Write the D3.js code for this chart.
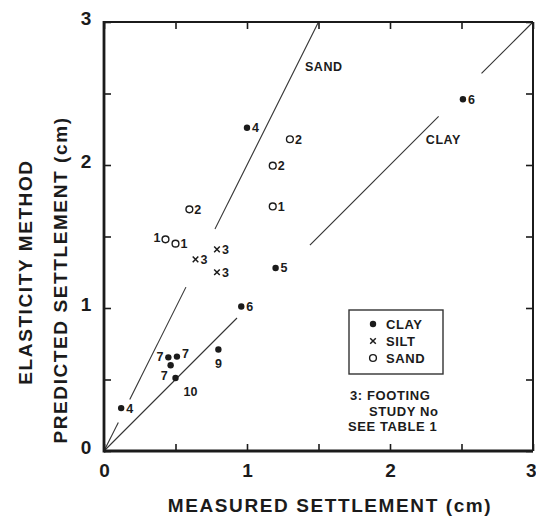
<!DOCTYPE html>
<html>
<head>
<meta charset="utf-8">
<script src="https://cdn.jsdelivr.net/npm/d3@7"></script>
<style>
  html, body { margin: 0; padding: 0; background: #fff; }
  svg { display: block; }
  text { font-family: "Liberation Sans", Arial, Helvetica, sans-serif; fill: #1b1b1b; }
</style>
</head>
<body>
<svg id="chart" width="536" height="516"></svg>
<script>
// Footing settlements: measured vs. predicted by the elasticity method (cm)
const soilTypes = ["CLAY", "SILT", "SAND"];

const clayMeasured  = [0.12, 1.00, 2.51, 1.20, 0.96, 0.45, 0.51, 0.466, 0.50, 0.80];
const clayPredicted = [0.30, 2.26, 2.46, 1.28, 1.01, 0.655, 0.66, 0.60, 0.51, 0.71];
const clayStudy     = ["4", "4", "6", "5", "6", "7", "7", "7", "10", "9"];

const siltMeasured  = [0.79, 0.64, 0.79];
const siltPredicted = [1.41, 1.34, 1.25];
const siltStudy     = ["3", "3", "3"];

const sandMeasured  = [0.597, 1.18, 0.43, 0.50, 1.30, 1.18];
const sandPredicted = [1.69, 1.71, 1.48, 1.45, 2.18, 1.995];
const sandStudy     = ["2", "1", "1", "1", "2", "2"];

// Trend lines through the origin: predicted = slope * measured, drawn in pieces
const trendNames    = ["SAND", "CLAY"];
const trendSlopes   = [2, 1];
const sandPieces    = [[0, 0.10], [0.18, 0.573], [0.776, 1.5]];
const clayPieces    = [[0, 0.93], [1.44, 2.34], [2.64, 3.0]];

const tickValues = [0, 0.5, 1, 1.5, 2, 2.5, 3];
const tickLabels = ["0", "", "1", "", "2", "", "3"];

const xTitle = "MEASURED SETTLEMENT (cm)";
const yTitleLines = ["ELASTICITY METHOD", "PREDICTED SETTLEMENT (cm)"];
const noteLines = ["3: FOOTING", "STUDY No", "SEE TABLE 1"];

// ---- build records ----
const points = [];
clayMeasured.forEach((m, i) => points.push({ soil: "CLAY", m, p: clayPredicted[i], label: clayStudy[i], idx: i }));
siltMeasured.forEach((m, i) => points.push({ soil: "SILT", m, p: siltPredicted[i], label: siltStudy[i], idx: i }));
sandMeasured.forEach((m, i) => points.push({ soil: "SAND", m, p: sandPredicted[i], label: sandStudy[i], idx: i }));

// label placement tweaks for crowded points: [dx, dy, anchor]
const labelOffsets = {
  "CLAY-5": [-5, -1, "end"],
  "CLAY-6": [5, -3, "start"],
  "CLAY-7": [-3, 10, "end"],
  "CLAY-8": [8, 13, "start"],
  "CLAY-9": [0, 14, "middle"],
  "SAND-2": [-5, -2, "end"]
};

const svg = d3.select("#chart");
const plotL = 104, plotR = 533, plotT = 22, plotB = 451;
const x = d3.scaleLinear().domain([0, 3]).range([plotL, plotR]);
const y = d3.scaleLinear().domain([0, 3]).range([plotB, plotT]);
const ink = "#1b1b1b";

// ---- trend lines ----
const line = d3.line().x(d => x(d[0])).y(d => y(d[1]));
[sandPieces, clayPieces].forEach((pieces, k) => {
  pieces.forEach(([a, b]) => {
    svg.append("path")
      .attr("d", line([[a, a * trendSlopes[k]], [b, b * trendSlopes[k]]]))
      .attr("fill", "none").attr("stroke", "#333").attr("stroke-width", 1.1);
  });
});
svg.append("text").attr("x", x(1.405)).attr("y", y(2.69) + 5)
  .attr("font-size", 12.5).attr("font-weight", "bold").attr("letter-spacing", 0.6).text(trendNames[0]);
svg.append("text").attr("x", x(2.25)).attr("y", y(2.18) + 5)
  .attr("font-size", 12.5).attr("font-weight", "bold").attr("letter-spacing", 0.6).text(trendNames[1]);

// ---- axes: inward ticks on all four sides ----
function fmt(d) { return tickLabels[tickValues.indexOf(d)]; }
const gx = svg.append("g").attr("transform", `translate(0,${plotB})`)
  .call(d3.axisBottom(x).tickValues(tickValues).tickFormat(fmt).tickSize(-7).tickSizeOuter(0).tickPadding(13));
const gy = svg.append("g").attr("transform", `translate(${plotL},0)`)
  .call(d3.axisLeft(y).tickValues(tickValues).tickFormat(fmt).tickSize(-7).tickSizeOuter(0).tickPadding(12));
const gt = svg.append("g").attr("transform", `translate(0,${plotT})`)
  .call(d3.axisTop(x).tickValues(tickValues).tickFormat("").tickSize(-7).tickSizeOuter(0));
const gr = svg.append("g").attr("transform", `translate(${plotR},0)`)
  .call(d3.axisRight(y).tickValues(tickValues).tickFormat("").tickSize(-7).tickSizeOuter(0));
[gx, gy, gt, gr].forEach(g => {
  g.select(".domain").remove();
  g.selectAll(".tick line").attr("stroke", ink).attr("stroke-width", 1.6);
  g.selectAll(".tick text").attr("fill", ink).attr("font-size", 19).attr("font-weight", "bold")
    .attr("font-family", "Liberation Sans, Arial, sans-serif");
});
gy.selectAll(".tick text").attr("text-anchor", "middle").attr("x", -18).attr("y", -4);
// keep the last x label inside the page edge
gx.selectAll(".tick text").filter(d => d === 3).attr("text-anchor", "end").attr("x", 3);

// frame
svg.append("line").attr("x1", plotL).attr("x2", plotR).attr("y1", plotT).attr("y2", plotT).attr("stroke", ink).attr("stroke-width", 2.2);
svg.append("line").attr("x1", plotR).attr("x2", plotR).attr("y1", plotT).attr("y2", plotB).attr("stroke", ink).attr("stroke-width", 2);
svg.append("line").attr("x1", plotL).attr("x2", plotR).attr("y1", plotB).attr("y2", plotB).attr("stroke", ink).attr("stroke-width", 2.8);
svg.append("line").attr("x1", plotL).attr("x2", plotL).attr("y1", plotT - 1).attr("y2", plotB + 1.4).attr("stroke", ink).attr("stroke-width", 2.8);

// ---- axis titles ----
svg.append("text").attr("x", 330).attr("y", 512).attr("text-anchor", "middle")
  .attr("font-size", 19).attr("font-weight", "bold").attr("letter-spacing", 1.6).text(xTitle);
svg.append("text").attr("transform", "translate(32,272) rotate(-90)").attr("text-anchor", "middle")
  .attr("font-size", 19).attr("font-weight", "bold").attr("letter-spacing", 1.6).text(yTitleLines[0]);
svg.append("text").attr("transform", "translate(67,280) rotate(-90)").attr("text-anchor", "middle")
  .attr("font-size", 19).attr("font-weight", "bold").attr("letter-spacing", 1.6).text(yTitleLines[1]);

// ---- markers ----
function drawMarker(g, soil, cx, cy) {
  if (soil === "CLAY") {
    g.append("circle").attr("cx", cx).attr("cy", cy).attr("r", 3.2).attr("fill", ink);
  } else if (soil === "SAND") {
    g.append("circle").attr("cx", cx).attr("cy", cy).attr("r", 3.4).attr("fill", "#fff")
      .attr("stroke", ink).attr("stroke-width", 1.4);
  } else {
    const s = 2.8;
    g.append("path").attr("d", `M${cx - s},${cy - s}L${cx + s},${cy + s}M${cx - s},${cy + s}L${cx + s},${cy - s}`)
      .attr("stroke", ink).attr("stroke-width", 1.5);
  }
}
const gp = svg.append("g");
points.forEach(d => {
  const cx = x(d.m), cy = y(d.p);
  drawMarker(gp, d.soil, cx, cy);
  const off = labelOffsets[`${d.soil}-${d.idx}`] || [5, 0, "start"];
  gp.append("text").attr("x", cx + off[0]).attr("y", cy + off[1] + 4.5)
    .attr("text-anchor", off[2]).attr("font-size", 12.5).attr("font-weight", "bold").text(d.label);
});

// ---- legend ----
const lg = svg.append("g");
lg.append("rect").attr("x", 349).attr("y", 310).attr("width", 94).attr("height", 64)
  .attr("fill", "none").attr("stroke", "#333").attr("stroke-width", 1.4);
soilTypes.forEach((s, i) => {
  const yy = 324 + i * 17;
  drawMarker(lg, s, 373, yy);
  lg.append("text").attr("x", 386).attr("y", yy + 5).attr("font-size", 13).attr("font-weight", "bold")
    .attr("letter-spacing", 0.6).text(s);
});
const noteX = [350, 369, 348];
noteLines.forEach((t, i) => {
  svg.append("text").attr("x", noteX[i]).attr("y", 400 + i * 15.5).attr("font-size", 13)
    .attr("font-weight", "bold").attr("letter-spacing", 0.6).text(t);
});
</script>
</body>
</html>
